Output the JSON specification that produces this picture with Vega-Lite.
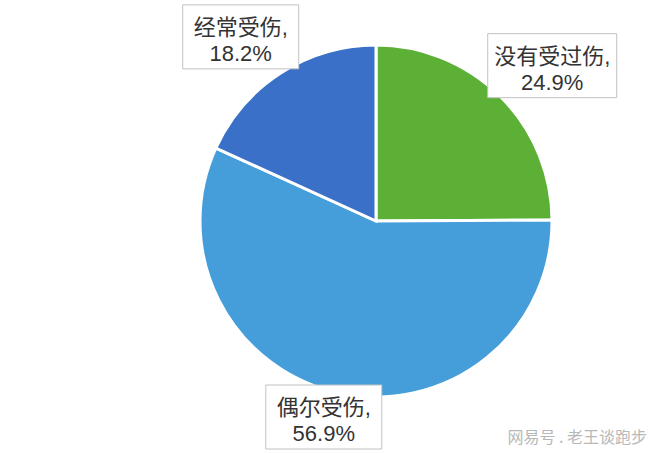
{
  "$schema": "https://vega.github.io/schema/vega-lite/v6.json",
  "width": 352,
  "height": 352,
  "autosize": {"type": "none"},
  "padding": {"left": 200, "top": 45, "right": 108, "bottom": 57},
  "background": "white",
  "title": {
    "text": "网易号 . 老王谈跑步",
    "orient": "bottom",
    "anchor": "end",
    "align": "right",
    "baseline": "top",
    "frame": "group",
    "dx": 95,
    "offset": -20,
    "font": "Noto Sans CJK SC",
    "fontSize": 16,
    "fontWeight": "normal",
    "color": "#b8b8b8"
  },
  "data": {
    "values": [
      {"category": "没有受过伤", "value": 24.9},
      {"category": "偶尔受伤", "value": 56.9},
      {"category": "经常受伤", "value": 18.2}
    ]
  },
  "transform": [
    {"window": [{"op": "sum", "field": "value", "as": "v1"}], "frame": [null, 0]},
    {"joinaggregate": [{"op": "sum", "field": "value", "as": "total"}]},
    {"calculate": "datum.v1 - datum.value", "as": "v0"},
    {"calculate": "(datum.v0 + datum.value / 2) / datum.total * 2 * PI", "as": "mid"},
    {"calculate": "250 * sin(datum.mid)", "as": "lx"},
    {"calculate": "max(219 * cos(datum.mid), -196)", "as": "ly"},
    {"calculate": "13 * length(datum.category) + 64", "as": "bw"},
    {"calculate": "datum.lx - datum.bw / 2", "as": "bx0"},
    {"calculate": "datum.lx + datum.bw / 2", "as": "bx1"},
    {"calculate": "datum.ly - 32", "as": "by0"},
    {"calculate": "datum.ly + 32", "as": "by1"},
    {"calculate": "[datum.category + ',', format(datum.value, '.1f') + '%']", "as": "label"}
  ],
  "layer": [
    {
      "mark": {"type": "arc", "stroke": "white", "strokeWidth": 3},
      "encoding": {
        "theta": {"field": "v0", "type": "quantitative", "scale": {"domain": [0, 100]}},
        "theta2": {"field": "v1"},
        "color": {
          "field": "category",
          "type": "nominal",
          "scale": {
            "domain": ["没有受过伤", "偶尔受伤", "经常受伤"],
            "range": ["#5cb036", "#459dda", "#3a70c8"]
          },
          "legend": null
        }
      }
    },
    {
      "mark": {"type": "rect", "fill": "white", "stroke": "#c2c2c2", "strokeWidth": 1},
      "encoding": {
        "x": {"field": "bx0", "type": "quantitative", "scale": {"domain": [-176, 176], "nice": false, "zero": false}, "axis": null},
        "x2": {"field": "bx1"},
        "y": {"field": "by0", "type": "quantitative", "scale": {"domain": [-176, 176], "nice": false, "zero": false}, "axis": null},
        "y2": {"field": "by1"}
      }
    },
    {
      "mark": {
        "type": "text",
        "font": "Liberation Sans, Noto Sans CJK SC",
        "fontSize": 22,
        "lineHeight": 26,
        "color": "#333333",
        "baseline": "middle",
        "align": "center",
        "dy": -9
      },
      "encoding": {
        "x": {"field": "lx", "type": "quantitative"},
        "y": {"field": "ly", "type": "quantitative"},
        "text": {"field": "label"}
      }
    }
  ],
  "config": {
    "view": {"stroke": null}
  }
}
